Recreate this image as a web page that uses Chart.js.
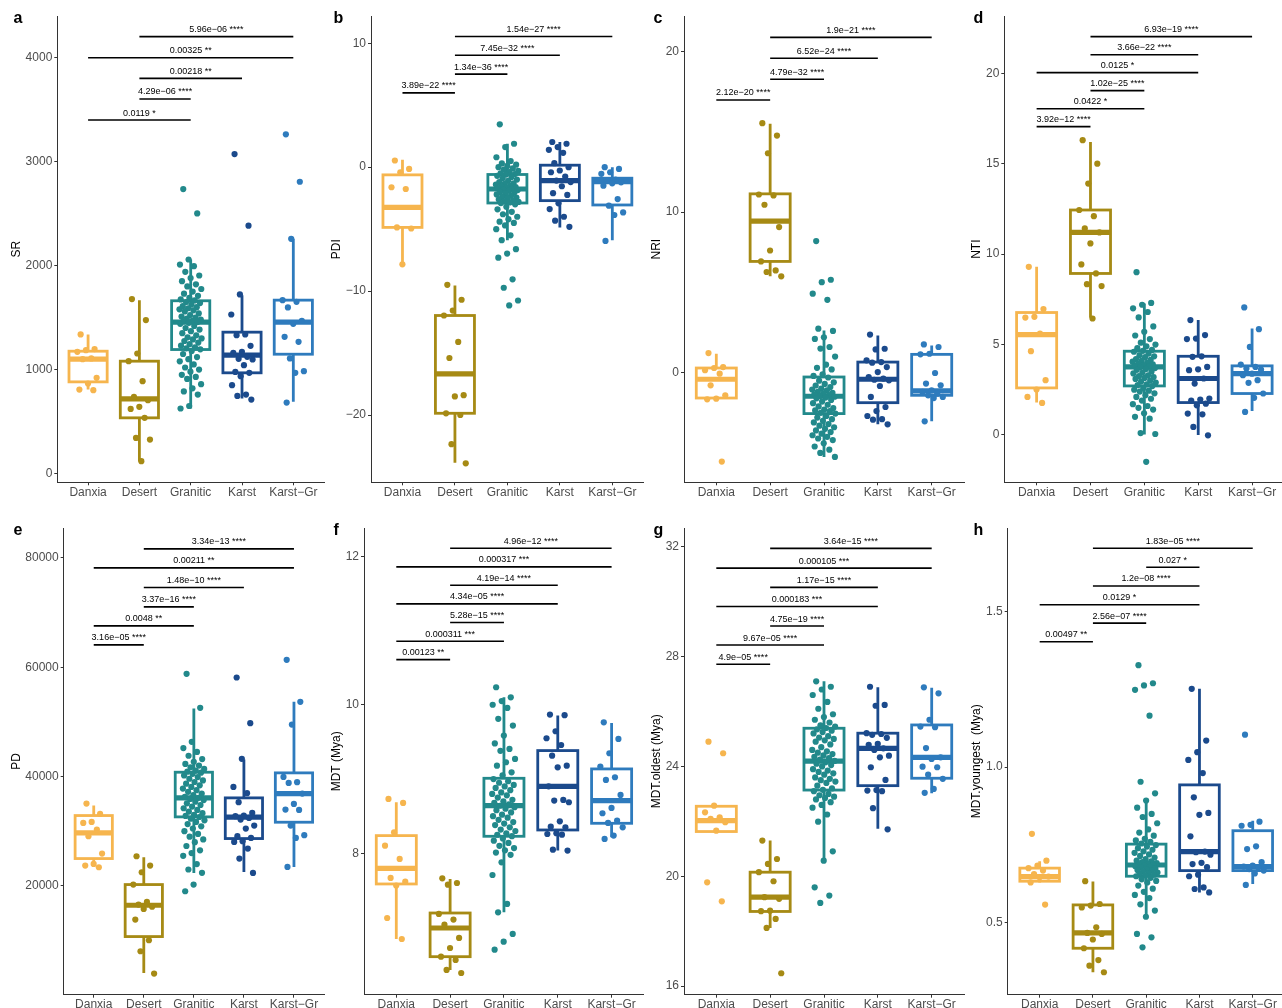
<!DOCTYPE html>
<html><head><meta charset="utf-8">
<script src="https://cdn.jsdelivr.net/npm/chart.js@4"></script>
<style>
html,body{margin:0;padding:0;background:#fff;overflow:hidden;width:1282px;height:1008px;position:relative;}
canvas{position:absolute;}
</style></head><body>
<script>
// ---------- DATA ----------
const categories = ['Danxia','Desert','Granitic','Karst','Karst\u2212Gr'];

// box stats: [lower whisker, Q1, median, Q3, upper whisker]
const SR_box = [[808,882,1100,1177,1338],[119,536,719,1081,1668],[626,1193,1456,1662,2059],[722,969,1139,1360,1716],[690,1148,1456,1668,2258]];
const SR_pts = [
 [1338,1197,1187,1171,1107,1100,921,866,808,802],
 [1678,1476,1155,1081,889,738,706,642,622,536,343,327,119],
 [2736,2502,2059,2010,1995,1940,1905,1880,1850,1820,1800,1775,1750,1730,1710,1690,1675,1665,1650,1640,1625,1610,1600,1590,1580,1570,1560,1540,1525,1510,1500,1490,1480,1470,1465,1458,1450,1440,1420,1400,1385,1370,1350,1330,1310,1300,1290,1275,1260,1245,1230,1215,1205,1195,1180,1150,1120,1100,1080,1050,1020,1000,980,950,930,910,860,820,790,760,650,626],
 [3073,2384,1723,1530,1338,1331,1229,1171,1161,1123,1104,1097,1043,978,969,937,850,760,747,712],
 [3263,2807,2258,1668,1652,1598,1470,1440,1315,1267,1107,985,969,683]];
const SR_tests = [[1,4,4203,'5.96e\u221206 ****'],[0,4,4000,'0.00325 **'],[1,3,3801,'0.00218 **'],[1,2,3603,'4.29e\u221206 ****'],[0,2,3400,'0.0119 *']];
const SR_ticks = [0,1000,2000,3000,4000];
const SR_tickLabels = ['0','1000','2000','3000','4000'];

const PDI_box = [[-7.78,-4.86,-3.24,-0.62,0.59],[-23.86,-19.86,-16.68,-11.97,-9.54],[-5.89,-2.89,-1.76,-0.59,1.89],[-4.86,-2.7,-1.08,0.16,2.03],[-5.89,-3.05,-1.16,-0.89,0]];
const PDI_pts = [
 [0.54,-0.14,-0.41,-1.62,-1.76,-4.86,-4.95,-7.84],
 [-9.49,-10.7,-11.57,-11.97,-14.1,-15.4,-18.4,-18.5,-19.86,-20.0,-22.35,-23.9],
 [3.46,1.89,1.62,0.8,0.5,0.3,0.2,0.1,0,-0.1,-0.2,-0.3,-0.4,-0.5,-0.55,-0.6,-0.7,-0.8,-0.9,-1.0,-1.1,-1.2,-1.3,-1.35,-1.4,-1.5,-1.55,-1.6,-1.65,-1.7,-1.75,-1.8,-1.85,-1.9,-2.0,-2.05,-2.1,-2.2,-2.3,-2.4,-2.45,-2.5,-2.6,-2.7,-2.75,-2.8,-2.85,-2.9,-3.0,-3.2,-3.4,-3.6,-3.8,-4.0,-4.2,-4.4,-4.5,-4.7,-5.0,-5.5,-5.89,-6.62,-6.97,-7.3,-9.05,-9.73,-10.76,-11.16],
 [2.03,1.89,1.62,1.4,1.16,0.32,0,-0.27,-0.41,-0.76,-1.08,-1.2,-1.54,-2.1,-2.24,-2.92,-3.38,-4.0,-4.32,-4.81],
 [0,-0.14,-0.41,-0.54,-1.0,-1.1,-1.22,-1.3,-1.49,-2.57,-3.11,-3.65,-3.86,-5.95]];
const PDI_tests = [[1,4,10.54,'1.54e\u221227 ****'],[1,3,9.03,'7.45e\u221232 ****'],[1,2,7.51,'1.34e\u221236 ****'],[0,1,6.0,'3.89e\u221222 ****']];
const PDI_ticks = [-20,-10,0,10];
const PDI_tickLabels = ['\u221220','\u221210','0','10'];

const NRI_box = [[-1.62,-1.58,-0.41,0.29,1.18],[6.0,6.93,9.44,11.14,15.5],[-5.25,-2.55,-1.47,-0.27,2.63],[-3.22,-1.87,-0.41,0.66,2.32],[-3.03,-1.41,-1.14,1.14,1.7]];
const NRI_pts = [
 [1.22,0.35,0.29,0.15,-0.06,-0.79,-1.41,-1.62,-1.66,-5.54],
 [15.54,14.77,13.67,11.1,11.04,10.46,9.07,7.61,6.93,6.37,6.27,6.0],
 [8.2,5.79,5.64,4.92,4.54,2.74,2.6,2.2,2.1,1.6,1.5,1.0,0.5,0.3,0.2,-0.1,-0.2,-0.3,-0.5,-0.6,-0.7,-0.8,-0.9,-1.0,-1.05,-1.1,-1.2,-1.25,-1.3,-1.35,-1.4,-1.45,-1.5,-1.55,-1.6,-1.7,-1.8,-1.9,-2.0,-2.1,-2.2,-2.3,-2.35,-2.4,-2.5,-2.55,-2.7,-2.8,-2.9,-3.0,-3.1,-3.2,-3.3,-3.4,-3.5,-3.6,-3.7,-3.8,-3.9,-4.0,-4.1,-4.2,-4.4,-4.6,-4.8,-5.0,-5.25],
 [2.37,1.49,1.45,0.77,0.66,0.62,0.35,0.04,-0.27,-0.37,-0.44,-0.48,-0.83,-1.51,-2.14,-2.39,-2.7,-2.9,-2.93,-3.22],
 [1.76,1.6,1.18,1.14,-0.02,-0.68,-0.79,-1.1,-1.2,-1.31,-1.41,-1.51,-1.58,-3.03]];
const NRI_tests = [[1,4,20.89,'1.9e\u221221 ****'],[1,3,19.59,'6.52e\u221224 ****'],[1,2,18.28,'4.79e\u221232 ****'],[0,1,16.99,'2.12e\u221220 ****']];
const NRI_ticks = [0,10,20];
const NRI_tickLabels = ['0','10','20'];

const NTI_box = [[1.79,2.6,5.55,6.77,9.3],[6.48,8.93,11.2,12.44,16.2],[0.02,2.71,3.76,4.63,7.27],[0,1.79,3.12,4.35,6.35],[1.33,2.29,3.39,3.82,5.89]];
const NTI_pts = [
 [9.3,6.96,6.53,6.49,5.6,4.63,3.03,2.51,2.1,1.77],
 [16.3,15.0,13.9,12.44,12.1,11.42,11.2,10.59,9.43,8.93,8.34,8.23,6.44],
 [9.0,7.3,7.2,7.0,6.8,6.5,6.0,5.7,5.5,5.3,5.1,5.0,4.9,4.8,4.7,4.65,4.6,4.5,4.4,4.35,4.3,4.2,4.15,4.1,4.05,4.0,3.95,3.9,3.85,3.8,3.78,3.76,3.7,3.65,3.6,3.5,3.45,3.4,3.3,3.25,3.2,3.15,3.1,3.0,2.95,2.9,2.8,2.75,2.7,2.6,2.5,2.45,2.4,2.3,2.2,2.1,2.0,1.9,1.7,1.6,1.5,1.4,1.2,1.0,0.9,0.1,0.05,-1.49],
 [6.35,5.52,5.33,5.3,4.35,4.32,3.76,3.63,3.58,3.12,2.84,2.01,1.96,1.9,1.73,1.64,1.18,1.14,0.44,-0.02],
 [7.05,5.85,4.87,3.89,3.76,3.67,3.62,3.39,3.3,3.03,2.88,2.29,2.05,1.27]];
const NTI_tests = [[1,4,22.03,'6.93e\u221219 ****'],[1,3,21.03,'3.66e\u221222 ****'],[0,3,20.04,'0.0125 *'],[1,2,19.04,'1.02e\u221225 ****'],[0,2,18.04,'0.0422 *'],[0,1,17.05,'3.92e\u221212 ****']];
const NTI_ticks = [0,5,10,15,20];
const NTI_tickLabels = ['0','5','10','15','20'];

const PD_box = [[23476,25000,29696,32867,34696],[4085,10731,16463,20244,25244],[22378,32622,36098,40793,52441],[22561,28659,32561,36098,43112],[23476,31647,36891,40672,53661]];
const PD_pts = [
 [35062,33172,31708,31525,30306,29086,25915,24025,23720,23415],
 [25427,23720,22500,20244,17073,16585,16200,15793,13841,10060,8048,3962],
 [58784,52563,46343,45200,44500,43800,43200,42700,42300,42000,41700,41400,41100,40900,40700,40500,40200,39900,39600,39300,39000,38700,38400,38100,37800,37500,37200,36900,36600,36300,36100,35900,35700,35400,35100,34800,34500,34200,33900,33600,33300,33000,32800,32600,32300,32000,31700,31300,30900,30500,30000,29500,29000,28500,28000,27300,26500,26000,25500,24000,23000,22400,20244,19024],
 [58112,49757,43234,38110,36952,35306,33355,32867,32745,32440,32135,31037,30489,29086,28781,28171,28050,26830,25000,22378],
 [61345,53661,49513,39940,38964,38843,36891,35001,33964,33900,31037,29269,28781,23476]];
const PD_tests = [[1,4,81651,'3.34e\u221213 ****'],[0,4,78175,'0.00211 **'],[1,3,74577,'1.48e\u221210 ****'],[1,2,71040,'3.37e\u221216 ****'],[0,2,67564,'0.0048 **'],[0,1,64089,'3.16e\u221205 ****']];
const PD_ticks = [20000,40000,60000,80000];
const PD_tickLabels = ['20000','40000','60000','80000'];

const MDT_box = [[6.846,7.587,7.798,8.238,8.687],[6.429,6.608,6.994,7.196,7.654],[7.205,8.229,8.642,9.01,10.10],[8.036,8.314,8.902,9.383,9.854],[8.215,8.404,8.709,9.136,9.755]];
const MDT_pts = [
 [8.732,8.678,8.283,8.103,7.924,7.668,7.618,7.565,7.129,6.846],
 [7.663,7.6,7.578,7.183,7.107,7.039,6.86,6.725,6.608,6.563,6.429,6.388],
 [10.236,10.10,10.05,10.0,9.957,9.81,9.72,9.585,9.48,9.405,9.38,9.27,9.226,9.18,9.09,9.05,9.0,8.97,8.95,8.92,8.9,8.88,8.85,8.82,8.8,8.78,8.75,8.72,8.7,8.68,8.66,8.64,8.62,8.6,8.58,8.55,8.52,8.5,8.48,8.45,8.42,8.4,8.38,8.35,8.32,8.3,8.27,8.25,8.23,8.2,8.17,8.14,8.1,8.07,8.04,8.01,7.98,7.879,7.708,7.318,7.205,6.914,6.81,6.702],
 [9.868,9.86,9.643,9.549,9.458,9.315,9.18,9.158,8.902,8.718,8.71,8.687,8.431,8.359,8.35,8.27,8.26,8.251,8.049,8.036],
 [9.764,9.54,9.347,9.167,9.024,8.988,8.786,8.611,8.539,8.44,8.409,8.35,8.238,8.193]];
const MDT_tests = [[1,4,12.108,'4.96e\u221212 ****'],[0,4,11.856,'0.000317 ***'],[1,3,11.609,'4.19e\u221214 ****'],[0,3,11.358,'4.34e\u221205 ****'],[1,2,11.107,'5.28e\u221215 ****'],[0,2,10.855,'0.000311 ***'],[0,1,10.608,'0.00123 **']];
const MDT_ticks = [8,10,12];
const MDT_tickLabels = ['8','10','12'];

const MDTO_box = [[21.63,21.63,22.03,22.55,22.57],[18.12,18.72,19.24,20.15,21.30],[20.6,23.14,24.19,25.39,27.1],[21.73,23.3,24.66,25.21,26.88],[23.02,23.57,24.33,25.51,26.86]];
const MDTO_pts = [
 [24.9,24.48,22.57,22.33,22.15,22.09,21.97,21.66,19.78,19.09],
 [21.3,20.63,20.45,20.15,19.82,19.24,19.18,18.75,18.73,18.45,18.12,16.47],
 [27.1,26.9,26.8,26.6,26.35,26.1,25.9,25.8,25.7,25.6,25.5,25.45,25.4,25.35,25.3,25.25,25.2,25.1,25.05,25.0,24.95,24.9,24.8,24.7,24.6,24.55,24.5,24.45,24.4,24.35,24.3,24.25,24.2,24.15,24.1,24.05,24.0,23.9,23.85,23.8,23.75,23.7,23.6,23.55,23.5,23.45,23.4,23.3,23.2,23.15,23.1,23.0,22.95,22.9,22.85,22.8,22.7,22.6,22.5,22.25,21.99,20.91,20.57,19.6,19.3,19.03],
 [26.9,26.24,26.21,25.21,25.18,25.15,25.04,24.82,24.79,24.66,24.6,24.39,24.33,23.97,23.51,23.14,23.12,23.1,22.48,21.71],
 [26.88,26.66,25.7,25.45,25.43,24.67,24.33,24.27,23.99,23.97,23.7,23.55,23.18,23.04]];
const MDTO_tests = [[1,4,31.94,'3.64e\u221215 ****'],[0,4,31.22,'0.000105 ***'],[1,3,30.52,'1.17e\u221215 ****'],[0,3,29.82,'0.000183 ***'],[1,2,29.11,'4.75e\u221219 ****'],[0,2,28.42,'9.67e\u221205 ****'],[0,1,27.72,'4.9e\u221205 ****']];
const MDTO_ticks = [16,20,24,28,32];
const MDTO_tickLabels = ['16','20','24','28','32'];

const MDTY_box = [[0.63,0.634,0.649,0.676,0.698],[0.342,0.419,0.468,0.558,0.633],[0.518,0.65,0.686,0.753,0.893],[0.598,0.668,0.729,0.943,1.251],[0.625,0.668,0.681,0.796,0.828]];
const MDTY_pts = [
 [0.786,0.70,0.684,0.676,0.668,0.657,0.649,0.647,0.630,0.559],
 [0.634,0.561,0.556,0.55,0.486,0.468,0.465,0.447,0.419,0.381,0.363,0.342],
 [1.327,1.269,1.262,1.248,1.165,0.953,0.916,0.893,0.87,0.85,0.84,0.82,0.8,0.79,0.78,0.77,0.765,0.76,0.755,0.75,0.745,0.74,0.735,0.73,0.725,0.72,0.715,0.71,0.705,0.70,0.698,0.695,0.692,0.69,0.688,0.686,0.684,0.682,0.68,0.678,0.675,0.672,0.67,0.668,0.665,0.662,0.66,0.657,0.655,0.652,0.65,0.645,0.64,0.635,0.63,0.62,0.61,0.6,0.59,0.58,0.56,0.54,0.52,0.465,0.454,0.422],
 [1.251,1.085,1.048,1.023,0.981,0.903,0.853,0.847,0.778,0.729,0.727,0.719,0.693,0.689,0.679,0.655,0.65,0.614,0.609,0.598],
 [1.104,0.825,0.815,0.812,0.746,0.737,0.695,0.684,0.681,0.679,0.673,0.668,0.659,0.622]];
const MDTY_tests = [[1,4,1.702,'1.83e\u221205 ****'],[2,3,1.641,'0.027 *'],[1,3,1.581,'1.2e\u221208 ****'],[0,3,1.521,'0.0129 *'],[1,2,1.462,'2.56e\u221207 ****'],[0,1,1.402,'0.00497 **']];
const MDTY_ticks = [0.5,1.0,1.5];
const MDTY_tickLabels = ['0.5','1.0','1.5'];

// ---------- STYLE / LAYOUT ----------
const colors = ['#F6B54E','#A68A14','#22898B','#1B4A8C','#2E7BBD'];
const FONT = '"Liberation Sans", Arial, Helvetica, sans-serif';
Chart.defaults.font.family = FONT;

const panels = [
 {letter:'a', title:'SR', box:SR_box, pts:SR_pts, tests:SR_tests, ticks:SR_ticks, tl:SR_tickLabels, yr:[-84,4401], left:0, top:0, axisX:57.3, right:324.1, pTop:16, pBottom:482.3},
 {letter:'b', title:'PDI', box:PDI_box, pts:PDI_pts, tests:PDI_tests, ticks:PDI_ticks, tl:PDI_tickLabels, yr:[-25.43,12.2], left:320, top:0, axisX:371, right:643.8, pTop:16, pBottom:482.3},
 {letter:'c', title:'NRI', box:NRI_box, pts:NRI_pts, tests:NRI_tests, ticks:NRI_ticks, tl:NRI_tickLabels, yr:[-6.83,22.22], left:640, top:0, axisX:684, right:964, pTop:16, pBottom:482.3},
 {letter:'d', title:'NTI', box:NTI_box, pts:NTI_pts, tests:NTI_tests, ticks:NTI_ticks, tl:NTI_tickLabels, yr:[-2.62,23.17], left:960, top:0, axisX:1004.3, right:1284.4, pTop:16, pBottom:482.3},
 {letter:'e', title:'PD', box:PD_box, pts:PD_pts, tests:PD_tests, ticks:PD_ticks, tl:PD_tickLabels, yr:[100,85460], left:0, top:504, axisX:63.7, right:324, pTop:528, pBottom:994.7},
 {letter:'f', title:'MDT (Mya)', box:MDT_box, pts:MDT_pts, tests:MDT_tests, ticks:MDT_ticks, tl:MDT_tickLabels, yr:[6.096,12.38], left:320, top:504, axisX:364, right:643.9, pTop:528, pBottom:994.7},
 {letter:'g', title:'MDT.oldest (Mya)', box:MDTO_box, pts:MDTO_pts, tests:MDTO_tests, ticks:MDTO_ticks, tl:MDTO_tickLabels, yr:[15.69,32.68], left:640, top:504, axisX:684, right:964, pTop:528, pBottom:994.7},
 {letter:'h', title:'MDT.youngest  (Mya)', box:MDTY_box, pts:MDTY_pts, tests:MDTY_tests, ticks:MDTY_ticks, tl:MDTY_tickLabels, yr:[0.27,1.767], left:960, top:504, axisX:1007.7, right:1284.7, pTop:528, pBottom:994.7}
];

const jit = k => (((k * 0.6180339887 + 0.17) % 1) - 0.5) * 0.44;

const boxPlugin = {
  id:'boxes',
  beforeDatasetsDraw(chart){
    const p = chart.options.plugins.boxes.panel;
    const {ctx} = chart; const x = chart.scales.x, y = chart.scales.y;
    p.box.forEach((s,i)=>{
      const [lo,q1,med,q3,hi] = s;
      const cx = x.getPixelForValue(i);
      const hw = x.getPixelForValue(i+0.372) - cx;
      const yl=y.getPixelForValue(lo), y1=y.getPixelForValue(q1), ym=y.getPixelForValue(med), y3=y.getPixelForValue(q3), yh=y.getPixelForValue(hi);
      ctx.save();
      ctx.strokeStyle = colors[i]; ctx.lineWidth = 2.8; ctx.lineCap='butt';
      ctx.beginPath(); ctx.moveTo(cx,yh); ctx.lineTo(cx,y3); ctx.moveTo(cx,y1); ctx.lineTo(cx,yl); ctx.stroke();
      ctx.fillStyle='#fff'; ctx.fillRect(cx-hw,y3,2*hw,y1-y3);
      ctx.strokeRect(cx-hw,y3,2*hw,y1-y3);
      ctx.lineWidth = 5.2; ctx.beginPath(); ctx.moveTo(cx-hw,ym); ctx.lineTo(cx+hw,ym); ctx.stroke();
      ctx.restore();
    });
  },
  afterDatasetsDraw(chart){
    const p = chart.options.plugins.boxes.panel;
    const {ctx} = chart; const x = chart.scales.x, y = chart.scales.y;
    ctx.save();
    ctx.strokeStyle='#000'; ctx.fillStyle='#000'; ctx.lineWidth=1.6;
    ctx.font = '9px ' + FONT; ctx.textAlign='center'; ctx.textBaseline='bottom';
    p.tests.forEach(([a,b,v,label])=>{
      const x1=x.getPixelForValue(a), x2=x.getPixelForValue(b), yp=y.getPixelForValue(v);
      ctx.beginPath(); ctx.moveTo(x1,yp); ctx.lineTo(x2,yp); ctx.stroke();
      ctx.fillText(label,(x1+x2)/2, yp-2.5);
    });
    ctx.font = 'bold 16px ' + FONT; ctx.textAlign='left'; ctx.textBaseline='alphabetic';
    ctx.fillText(p.letter, 13.5, p.pTop - p.top + 6.8);
    ctx.restore();
  }
};

panels.forEach(p=>{
  const W = 330, H = 504;
  const cv = document.createElement('canvas');
  cv.width=W; cv.height=H;
  cv.style.left=p.left+'px'; cv.style.top=p.top+'px'; cv.style.width=W+'px'; cv.style.height=H+'px';
  document.body.appendChild(cv);
  new Chart(cv, {
    type:'scatter',
    data:{datasets: p.pts.map((arr,g)=>({
      data: arr.map((v,k)=>({x:g+jit(k), y:v})),
      backgroundColor: colors[g], borderWidth:0, pointRadius:3.1, pointHoverRadius:3.1
    }))},
    options:{
      responsive:false, animation:false, events:[],
      layout:{autoPadding:false, padding:{left:0, top:p.pTop-p.top, right:W-(p.right-p.left), bottom:0}},
      plugins:{legend:{display:false}, tooltip:{enabled:false}, boxes:{panel:p}},
      scales:{
        x:{type:'linear', bounds:'data', min:-0.6, max:4.6,
          afterBuildTicks:s=>{s.ticks = categories.map((c,i)=>({value:i}));},
          ticks:{callback:(v,i)=>categories[i], autoSkip:false, maxRotation:0, minRotation:0, color:'#4D4D4D', font:{size:12}, padding:0},
          grid:{drawOnChartArea:false, drawTicks:true, tickLength:3, color:'#333', tickColor:'#333'},
          border:{display:true, color:'#333', width:1},
          afterFit:s=>{s.height = H-(p.pBottom-p.top);}
        },
        y:{type:'linear', bounds:'data', min:p.yr[0], max:p.yr[1],
          afterBuildTicks:s=>{s.ticks = p.ticks.map(v=>({value:v}));},
          ticks:{callback:(v,i)=>p.tl[i], autoSkip:false, color:'#4D4D4D', font:{size:12}, padding:2},
          grid:{drawOnChartArea:false, drawTicks:true, tickLength:3, color:'#333', tickColor:'#333'},
          border:{display:true, color:'#333', width:1},
          title:{display:true, text:p.title, color:'#000', font:{size:12}, padding:{top:9.8, bottom:0}},
          afterFit:s=>{s.width = p.axisX-p.left;}
        }
      }
    },
    plugins:[boxPlugin]
  });
});
</script>
</body></html>
